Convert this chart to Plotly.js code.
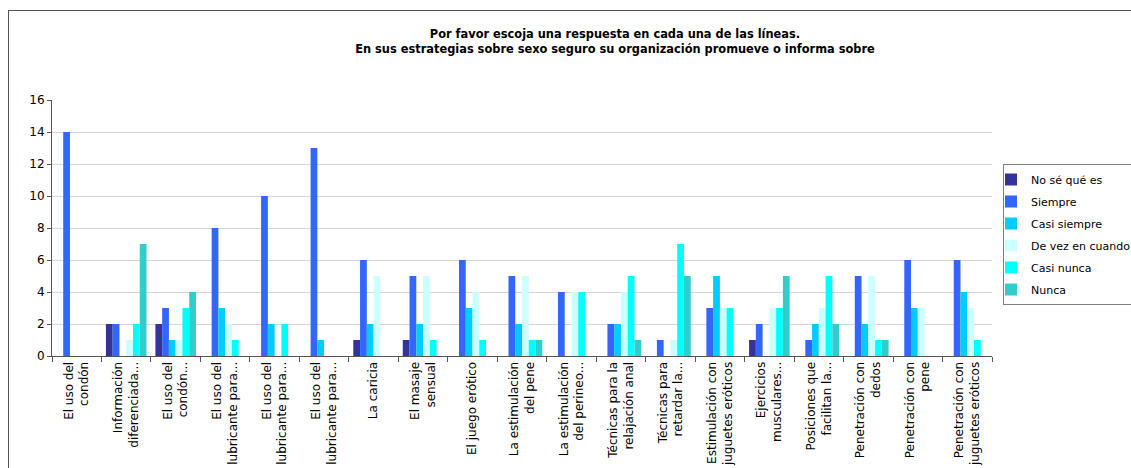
<!DOCTYPE html>
<html>
<head>
<meta charset="utf-8">
<script src="https://cdn.plot.ly/plotly-3.0.1.min.js"></script>
<style>
html,body{margin:0;padding:0;background:#fff;overflow:hidden;}
#wrap{position:relative;width:1131px;height:468px;overflow:hidden;}
#chart{width:1160px;height:468px;}
#frame{position:absolute;left:8px;top:10px;width:1200px;height:500px;border-left:1.5px solid #555;border-top:1.5px solid #555;pointer-events:none;}
</style>
</head>
<body>
<div id="wrap"><div id="chart"></div><div id="frame"></div></div>
<script>
const categories = [
  "El uso del<br>condón",
  "Información<br>diferenciada...",
  "El uso del<br>condón...",
  "El uso del<br>lubricante para...",
  "El uso del<br>lubricante para...",
  "El uso del<br>lubricante para...",
  "La caricia",
  "El masaje<br>sensual",
  "El juego erótico",
  "La estimulación<br>del pene",
  "La estimulación<br>del perineo...",
  "Técnicas para la<br>relajación anal",
  "Técnicas para<br>retardar la...",
  "Estimulación con<br>juguetes eróticos",
  "Ejercicios<br>musculares...",
  "Posiciones que<br>facilitan la...",
  "Penetración con<br>dedos",
  "Penetración con<br>pene",
  "Penetración con<br>juguetes eróticos"
];
const seriesNames = ["No sé qué es","Siempre","Casi siempre","De vez en cuando","Casi nunca","Nunca"];
const noSe        = [0,2,2,0,0,0,1,1,0,0,0,0,0,0,1,0,0,0,0];
const siempre     = [14,2,3,8,10,13,6,5,6,5,4,2,1,3,2,1,5,6,6];
const casiSiempre = [0,0,1,3,2,1,2,2,3,2,0,2,0,5,0,2,2,3,4];
const deVez       = [0,1,1,2,0,0,5,5,4,5,4,4,1,3,3,3,5,3,3];
const casiNunca   = [0,2,3,1,2,0,0,1,1,1,4,5,7,3,3,5,1,0,1];
const nunca       = [0,7,4,0,0,0,0,0,0,1,0,1,5,0,5,2,1,0,0];
const colors = ["#333399","#3366FF","#00CCFF","#CCFFFF","#00FFFF","#33CCCC"];
const allValues = [noSe, siempre, casiSiempre, deVez, casiNunca, nunca];

// unique category keys so that repeated labels stay separate
const catIds = categories.map((c,i)=>'c'+i);
const data = allValues.map((vals,i)=>({
  type:'bar',
  name: seriesNames[i],
  x: catIds,
  y: vals,
  legendgroup: 'g'+i,
  marker:{color:colors[i], line:{width:0}},
  hoverinfo:'name+y'
}));

const W = 1160;
const layout = {
  width:W, height:468,
  margin:{l:52, r:W-992, t:100, b:112},
  paper_bgcolor:'rgba(0,0,0,0)',
  plot_bgcolor:'#fff',
  font:{family:'"DejaVu Sans", Verdana, sans-serif', size:11, color:'#000'},
  title:{
    text:'<b>Por favor escoja una respuesta en cada una de las líneas.<br>En sus estrategias sobre sexo seguro su organización promueve o informa sobre</b>',
    font:{size:11.4, color:'#000'},
    x:615/W, xref:'container', xanchor:'center',
    y:1-38/468, yref:'container', yanchor:'top'
  },
  barmode:'group',
  bargap:0.18,
  bargroupgap:0,
  showlegend:true,
  legend:{
    x:(1003-52)/940, xanchor:'left',
    y:(356-164)/256, yanchor:'top',
    bordercolor:'#808080', borderwidth:1,
    bgcolor:'#fff',
    font:{size:11},
    tracegroupgap:3,
    indentation:-13,
    traceorder:'grouped'
  },
  xaxis:{
    type:'category',
    tickmode:'array',
    tickvals:catIds,
    ticktext:categories,
    tickangle:-90,
    ticks:'outside', ticklen:5, tickcolor:'#555',
    tickson:'boundaries',
    showline:true, linecolor:'#555', linewidth:1,
    showgrid:false,
    tickfont:{size:12},
    automargin:false,
    fixedrange:true
  },
  yaxis:{
    range:[0,16],
    dtick:2,
    ticks:'outside', ticklen:4, tickcolor:'#555',
    showline:true, linecolor:'#555', linewidth:1,
    showgrid:true, gridcolor:'#d6d6d6', gridwidth:1,
    zeroline:false,
    tickfont:{size:12},
    automargin:false,
    fixedrange:true
  }
};
Plotly.newPlot('chart', data, layout, {displayModeBar:false, staticPlot:true});
</script>
</body>
</html>
